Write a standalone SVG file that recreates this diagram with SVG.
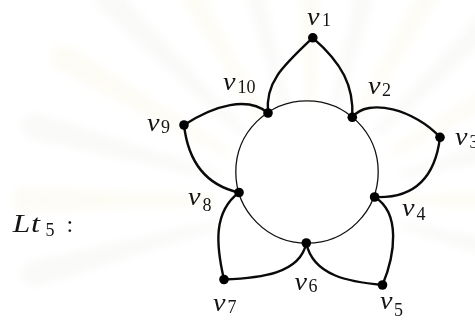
<svg xmlns="http://www.w3.org/2000/svg" xmlns:xlink="http://www.w3.org/1999/xlink" width="475" height="320" viewBox="0 0 475 320">
  <style>
    .v { font-family: "Liberation Serif", "DejaVu Serif", serif; font-style: italic; font-size: 25px; fill: #141414; }
    .s { font-family: "Liberation Serif", "DejaVu Serif", serif; font-size: 18px; fill: #141414; }
    .petal { fill: none; stroke: #0a0a0a; stroke-width: 2.4; stroke-linecap: round; }
    .ring { fill: none; stroke: #111; stroke-width: 1.3; }
    .dot { fill: #000; }
  </style>
  <defs>
    <filter id="soft" x="-20%" y="-20%" width="140%" height="140%">
      <feGaussianBlur stdDeviation="4"/>
    </filter>
    <path id="ray" d="M -4,-95 L -13,-285 A 13 13 0 0 1 13,-285 L 4,-95 Z"/>
  </defs>
  <rect width="475" height="320" fill="#ffffff"/>
  <g id="watermark" filter="url(#soft)" opacity="0.6">
    <use xlink:href="#ray" transform="translate(310,200) rotate(-105)" fill="#f6f6f4"/>
    <use xlink:href="#ray" transform="translate(310,200) rotate(-90)" fill="#fcf9ee"/>
    <use xlink:href="#ray" transform="translate(310,200) rotate(-75)" fill="#f6f6f4"/>
    <use xlink:href="#ray" transform="translate(310,200) rotate(-60)" fill="#fcf9ee"/>
    <use xlink:href="#ray" transform="translate(310,200) rotate(-45)" fill="#f6f6f4"/>
    <use xlink:href="#ray" transform="translate(310,200) rotate(-30)" fill="#fcf9ee"/>
    <use xlink:href="#ray" transform="translate(310,200) rotate(-15)" fill="#f6f6f4"/>
    <use xlink:href="#ray" transform="translate(310,200) rotate(0)" fill="#fcf9ee"/>
    <use xlink:href="#ray" transform="translate(310,200) rotate(15)" fill="#f6f6f4"/>
    <use xlink:href="#ray" transform="translate(310,200) rotate(30)" fill="#fcf9ee"/>
    <use xlink:href="#ray" transform="translate(310,200) rotate(45)" fill="#f6f6f4"/>
    <use xlink:href="#ray" transform="translate(310,200) rotate(60)" fill="#fcf9ee"/>
    <use xlink:href="#ray" transform="translate(310,200) rotate(75)" fill="#f6f6f4"/>
    <use xlink:href="#ray" transform="translate(310,200) rotate(90)" fill="#fcf9ee"/>
    <use xlink:href="#ray" transform="translate(310,200) rotate(105)" fill="#f6f6f4"/>
  </g>

  <g id="title">
    <text class="v" x="12.7" y="231.7" textLength="17.5" lengthAdjust="spacingAndGlyphs">L</text>
    <text class="v" x="31" y="231.7" textLength="9" lengthAdjust="spacingAndGlyphs">t</text>
    <text class="s" x="45.5" y="235.5">5</text>
    <text class="s" x="66.5" y="231.7" style="font-size:24px">:</text>
  </g>

  <g id="connectors">
    <circle class="ring" cx="307" cy="172" r="71.2"/>
    <path class="petal" d="M312.8,37.8 C283,66 265,82 268,113"/>
    <path class="petal" d="M312.8,37.8 C342,63 354,86 352.3,117.3"/>
    <path class="petal" d="M440,137.3 C415,110 368,97 352.3,117.3"/>
    <path class="petal" d="M440,137.3 C436,170 420,199 374.6,197"/>
    <path class="petal" d="M382.5,285 C395,255 401,213 374.6,197"/>
    <path class="petal" d="M382.5,285 C350,282 313,276 306.3,243"/>
    <path class="petal" d="M224,279.5 C260,278 300,274 306.3,243"/>
    <path class="petal" d="M224,279.5 C216,245 213,212 239,192.5"/>
    <path class="petal" d="M184,125 C188,160 205,185 239,192.5"/>
    <path class="petal" d="M184,125 C215,105 248,96 268,113"/>
  </g>

  <g id="v1">
    <circle class="dot" cx="312.8" cy="37.8" r="4.8"/>
    <text class="v" x="307" y="25.3" textLength="12.5" lengthAdjust="spacingAndGlyphs">v</text>
    <text class="s" x="322" y="26.3">1</text>
  </g>
  <g id="v2">
    <circle class="dot" cx="352.3" cy="117.3" r="4.8"/>
    <text class="v" x="368" y="93.5" textLength="12.5" lengthAdjust="spacingAndGlyphs">v</text>
    <text class="s" x="382" y="96">2</text>
  </g>
  <g id="v3">
    <circle class="dot" cx="440" cy="137.3" r="4.8"/>
    <text class="v" x="455" y="145" textLength="12.5" lengthAdjust="spacingAndGlyphs">v</text>
    <text class="s" x="469.5" y="148">3</text>
  </g>
  <g id="v4">
    <circle class="dot" cx="374.6" cy="197" r="4.8"/>
    <text class="v" x="402" y="216" textLength="12.5" lengthAdjust="spacingAndGlyphs">v</text>
    <text class="s" x="416.5" y="220">4</text>
  </g>
  <g id="v5">
    <circle class="dot" cx="382.5" cy="285" r="4.8"/>
    <text class="v" x="380" y="308.5" textLength="12.5" lengthAdjust="spacingAndGlyphs">v</text>
    <text class="s" x="394" y="316">5</text>
  </g>
  <g id="v6">
    <circle class="dot" cx="306.3" cy="243" r="4.8"/>
    <text class="v" x="294.5" y="290" textLength="12.5" lengthAdjust="spacingAndGlyphs">v</text>
    <text class="s" x="308.5" y="292">6</text>
  </g>
  <g id="v7">
    <circle class="dot" cx="224" cy="279.5" r="4.8"/>
    <text class="v" x="213" y="310.7" textLength="12.5" lengthAdjust="spacingAndGlyphs">v</text>
    <text class="s" x="227.5" y="313">7</text>
  </g>
  <g id="v8">
    <circle class="dot" cx="239" cy="192.5" r="4.8"/>
    <text class="v" x="188" y="205" textLength="12.5" lengthAdjust="spacingAndGlyphs">v</text>
    <text class="s" x="202.5" y="210.7">8</text>
  </g>
  <g id="v9">
    <circle class="dot" cx="184" cy="125" r="4.8"/>
    <text class="v" x="147" y="131" textLength="12.5" lengthAdjust="spacingAndGlyphs">v</text>
    <text class="s" x="161" y="132.5">9</text>
  </g>
  <g id="v10">
    <circle class="dot" cx="268" cy="113" r="4.8"/>
    <text class="v" x="223" y="90" textLength="12.5" lengthAdjust="spacingAndGlyphs">v</text>
    <text class="s" x="237.5" y="93">10</text>
  </g>
</svg>
